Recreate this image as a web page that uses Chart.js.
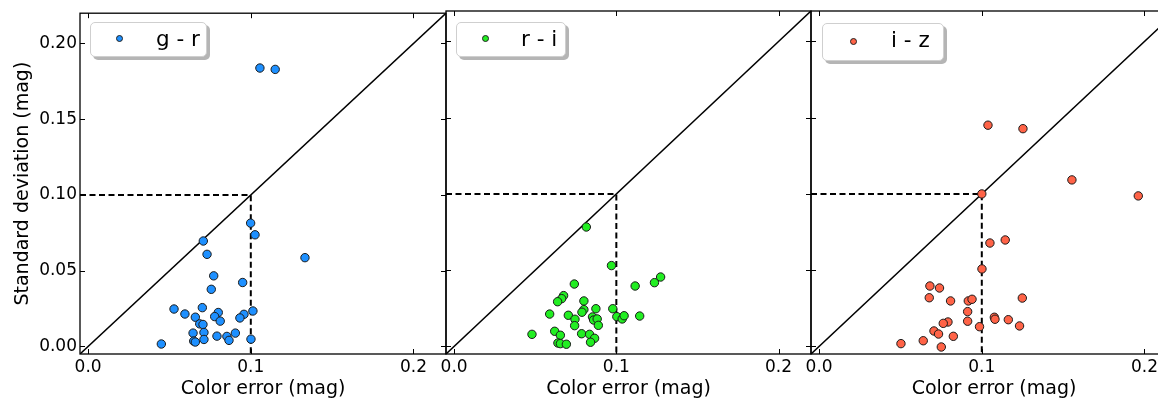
<!DOCTYPE html>
<html><head><meta charset="utf-8">
<script src="https://cdn.jsdelivr.net/npm/chart.js@4.4.0/dist/chart.umd.min.js"></script>
<style>
html,body{margin:0;padding:0;background:#fff;width:1158px;height:402px;overflow:hidden;position:relative;font-family:"DejaVu Sans",sans-serif}
canvas{position:absolute;top:0}
.leg{position:absolute;background:#fff;border:1px solid #cfcfcf;border-radius:5px;box-shadow:3px 3px 0 #b5b5b5;box-sizing:border-box;z-index:2}
.leg .dot{position:absolute;width:7px;height:7px;border-radius:50%;border:1px solid #222;box-sizing:border-box}
.leg .txt{position:absolute;font-size:21.5px;line-height:1;color:#000;white-space:pre}
</style></head>
<body>
<canvas id="c1" style="left:0px" width="470" height="402"></canvas>
<canvas id="c2" style="left:420px" width="410" height="402"></canvas>
<canvas id="c3" style="left:786px" width="410" height="402"></canvas>

<div class="leg" style="left:90px;top:22px;width:117px;height:35px">
  <span class="dot" style="left:25px;top:12px;background:#1e90ff"></span>
  <span class="txt" id="t1" style="left:65px;top:5px"></span>
</div>
<div class="leg" style="left:456px;top:22px;width:110px;height:35px">
  <span class="dot" style="left:25px;top:12px;background:#22ee22"></span>
  <span class="txt" id="t2" style="left:64px;top:5px"></span>
</div>
<div class="leg" style="left:822px;top:23px;width:122px;height:38px">
  <span class="dot" style="left:27px;top:14px;background:#ff6347"></span>
  <span class="txt" id="t3" style="left:68px;top:5px"></span>
</div>

<script>
// ---- data ----
const seriesLabels = ['g - r', 'r - i', 'i - z'];
const grX = [0.0999, 0.1026, 0.0708, 0.0731, 0.1333, 0.0772, 0.0950, 0.0757, 0.0528, 0.0595, 0.0702, 0.0659, 0.0800, 0.0778, 0.0812, 0.0686, 0.0706, 0.0958, 0.0933, 0.1013, 0.0645, 0.0712, 0.0649, 0.0659, 0.0712, 0.0792, 0.0853, 0.0866, 0.0905, 0.1001, 0.0450, 0.1056, 0.1150];
const grY = [0.0814, 0.0737, 0.0696, 0.0608, 0.0586, 0.0466, 0.0422, 0.0377, 0.0247, 0.0214, 0.0256, 0.0193, 0.0224, 0.0197, 0.0167, 0.0149, 0.0145, 0.0212, 0.0188, 0.0234, 0.0088, 0.0092, 0.0035, 0.0029, 0.0046, 0.0068, 0.0066, 0.0040, 0.0088, 0.0048, 0.0016, 0.1838, 0.1829];
const riX = [0.0815, 0.0970, 0.0741, 0.1273, 0.1235, 0.1116, 0.0675, 0.0663, 0.0638, 0.0800, 0.0800, 0.0788, 0.0874, 0.0978, 0.0589, 0.0704, 0.0745, 0.0743, 0.0853, 0.0860, 0.0882, 0.0889, 0.1003, 0.1036, 0.1048, 0.1144, 0.0480, 0.0620, 0.0655, 0.0640, 0.0655, 0.0692, 0.0786, 0.0835, 0.0866, 0.0841];
const riY = [0.0783, 0.0530, 0.0409, 0.0455, 0.0418, 0.0396, 0.0333, 0.0313, 0.0293, 0.0298, 0.0241, 0.0224, 0.0247, 0.0247, 0.0212, 0.0204, 0.0178, 0.0136, 0.0193, 0.0173, 0.0180, 0.0138, 0.0195, 0.0180, 0.0201, 0.0199, 0.0079, 0.0099, 0.0073, 0.0022, 0.0018, 0.0014, 0.0083, 0.0079, 0.0053, 0.0027];
const izX = [0.1038, 0.1253, 0.1554, 0.1962, 0.1000, 0.1050, 0.1144, 0.1001, 0.0681, 0.0740, 0.0677, 0.0808, 0.0917, 0.0940, 0.1249, 0.0913, 0.1077, 0.1081, 0.1163, 0.1232, 0.0913, 0.0792, 0.0763, 0.0986, 0.0706, 0.0734, 0.0825, 0.0503, 0.0640, 0.0751];
const izY = [0.1451, 0.1428, 0.1092, 0.0987, 0.1000, 0.0678, 0.0698, 0.0508, 0.0396, 0.0383, 0.0319, 0.0298, 0.0298, 0.0309, 0.0317, 0.0228, 0.0191, 0.0178, 0.0175, 0.0134, 0.0165, 0.0160, 0.0151, 0.0129, 0.0101, 0.0081, 0.0066, 0.0018, 0.0037, -0.0004];
const xTickValues = [0, 0.1, 0.2];
const xTickLabels = ['0.0', '0.1', '0.2'];
const yTickValues = [0, 0.05, 0.1, 0.15, 0.2];
const yTickLabels = ['0.00', '0.05', '0.10', '0.15', '0.20'];
const axisRange = [-0.005, 0.22];
const threshold = 0.1;
const xTitle = 'Color error (mag)';
const yTitle = 'Standard deviation (mag)';

document.getElementById('t1').textContent = seriesLabels[0];
document.getElementById('t2').textContent = seriesLabels[1];
document.getElementById('t3').textContent = seriesLabels[2];

const FONT = '"DejaVu Sans", sans-serif';

const framePlugin = {
  id: 'frame',
  afterDraw(chart) {
    const {ctx, chartArea: a, scales} = chart;
    ctx.save();
    ctx.strokeStyle = '#000';
    ctx.lineWidth = 1;
    const L = 5;
    ctx.beginPath();
    scales.x.ticks.forEach(t => {
      const p = Math.round(scales.x.getPixelForValue(t.value)) + 0.5;
      ctx.moveTo(p, a.bottom); ctx.lineTo(p, a.bottom - L);
      ctx.moveTo(p, a.top); ctx.lineTo(p, a.top + L);
    });
    scales.y.ticks.forEach(t => {
      const p = Math.round(scales.y.getPixelForValue(t.value)) + 0.5;
      ctx.moveTo(a.left, p); ctx.lineTo(a.left + L, p);
      ctx.moveTo(a.right, p); ctx.lineTo(a.right - L, p);
    });
    ctx.stroke();
    ctx.lineWidth = 1.3;
    ctx.strokeRect(a.left, a.top, a.right - a.left, a.bottom - a.top);
    ctx.restore();
  }
};

function makePanel(id, label, xs, ys, color, yWidth, showY, target) {
  const pts = xs.map((x, i) => ({x: x, y: ys[i]}));
  const diag = [{x: axisRange[0], y: axisRange[0]}, {x: axisRange[1], y: axisRange[1]}];
  const thr = [{x: axisRange[0], y: threshold}, {x: threshold, y: threshold}, {x: threshold, y: axisRange[0]}];
  const pad = {top: 11, right: 10, left: 10, bottom: 0};
  const fitState = {xHeight: 48};
  const canvas = document.getElementById(id);
  const chart = new Chart(canvas, {
    type: 'scatter',
    data: {
      datasets: [
        {label: label, data: pts, backgroundColor: color, borderColor: '#1a1a1a', borderWidth: 1,
         pointRadius: 4.2, pointHoverRadius: 4.2, order: 1},
        {label: 'one-to-one', data: diag, showLine: true, borderColor: '#000', borderWidth: 1.5,
         pointRadius: 0, order: 3},
        {label: 'limit', data: thr, showLine: true, borderColor: '#000', borderWidth: 2,
         borderDash: [6, 3.5], pointRadius: 0, order: 2}
      ]
    },
    options: {
      responsive: false, animation: false, devicePixelRatio: 1,
      layout: {padding: pad},
      plugins: {legend: {display: false}, tooltip: {enabled: false}},
      scales: {
        x: {
          type: 'linear', min: axisRange[0], max: axisRange[1],
          grid: {display: false, drawTicks: false}, border: {display: false},
          afterBuildTicks: s => { s.ticks = xTickValues.map(v => ({value: v})); },
          afterFit: s => { s.height = fitState.xHeight; },
          ticks: {padding: 3, color: '#000', font: {family: FONT, size: 17},
                  maxRotation: 0, autoSkip: false,
                  callback: (v, i) => xTickLabels[i]},
          title: {display: true, text: xTitle, color: '#000', font: {family: FONT, size: 19},
                  padding: {top: 0, bottom: 1.5}}
        },
        y: {
          type: 'linear', min: axisRange[0], max: axisRange[1],
          grid: {display: false, drawTicks: false}, border: {display: false},
          afterBuildTicks: s => { s.ticks = yTickValues.map(v => ({value: v})); },
          afterFit: s => { s.width = yWidth; },
          ticks: {display: showY, padding: 3, color: '#000', font: {family: FONT, size: 17},
                  autoSkip: false, callback: (v, i) => yTickLabels[i]},
          title: {display: showY, text: yTitle, color: '#000', font: {family: FONT, size: 19},
                  padding: {top: 11.5, bottom: 0}}
        }
      }
    },
    plugins: [framePlugin]
  });
  // align the plot area with the target frame
  for (let k = 0; k < 4; k++) {
    const a = chart.chartArea;
    const canvasLeft = target.left - a.left;
    canvas.style.left = canvasLeft + 'px';
    const dr = a.right - (target.right - canvasLeft);
    const dt = target.top - a.top;
    const db = target.bottom - a.bottom;
    if (Math.abs(dr) < 0.05 && Math.abs(dt) < 0.05 && Math.abs(db) < 0.05) break;
    pad.right += dr;
    pad.top += dt;
    fitState.xHeight -= db;
    chart.update('none');
  }
}

makePanel('c1', seriesLabels[0], grX, grY, '#1e90ff', 80, true, {left: 80, right: 446, top: 11, bottom: 354});
makePanel('c2', seriesLabels[1], riX, riY, '#22ee22', 20, false, {left: 446, right: 811, top: 11, bottom: 354});
makePanel('c3', seriesLabels[2], izX, izY, '#ff6347', 20, false, {left: 811, right: 1177, top: 11, bottom: 354});
</script>
</body></html>
